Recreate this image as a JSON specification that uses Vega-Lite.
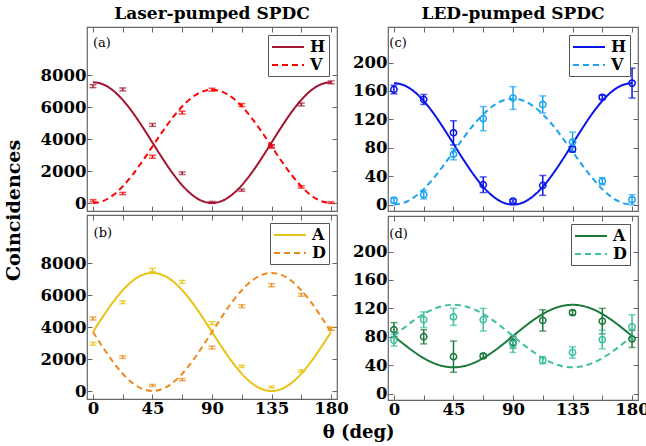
{
"$schema": "https://vega.github.io/schema/vega-lite/v6.json",
"background": "white",
"padding": {"left": 5, "top": 3, "right": 4, "bottom": 0},
"datasets": {
"fit": [
{"p":"a","s":"H","t":0,"v":7550},{"p":"a","s":"H","t":7.5,"v":7421},{"p":"a","s":"H","t":15,"v":7044},{"p":"a","s":"H","t":22.5,"v":6444},{"p":"a","s":"H","t":30,"v":5663},{"p":"a","s":"H","t":37.5,"v":4752},{"p":"a","s":"H","t":45,"v":3775},{"p":"a","s":"H","t":52.5,"v":2798},{"p":"a","s":"H","t":60,"v":1888},{"p":"a","s":"H","t":67.5,"v":1106},{"p":"a","s":"H","t":75,"v":506},{"p":"a","s":"H","t":82.5,"v":129},{"p":"a","s":"H","t":90,"v":0},{"p":"a","s":"H","t":97.5,"v":129},{"p":"a","s":"H","t":105,"v":506},{"p":"a","s":"H","t":112.5,"v":1106},{"p":"a","s":"H","t":120,"v":1888},{"p":"a","s":"H","t":127.5,"v":2798},{"p":"a","s":"H","t":135,"v":3775},{"p":"a","s":"H","t":142.5,"v":4752},{"p":"a","s":"H","t":150,"v":5663},{"p":"a","s":"H","t":157.5,"v":6444},{"p":"a","s":"H","t":165,"v":7044},{"p":"a","s":"H","t":172.5,"v":7421},{"p":"a","s":"H","t":180,"v":7550},
{"p":"a","s":"V","t":0,"v":0},{"p":"a","s":"V","t":7.5,"v":121},{"p":"a","s":"V","t":15,"v":474},{"p":"a","s":"V","t":22.5,"v":1037},{"p":"a","s":"V","t":30,"v":1770},{"p":"a","s":"V","t":37.5,"v":2624},{"p":"a","s":"V","t":45,"v":3540},{"p":"a","s":"V","t":52.5,"v":4456},{"p":"a","s":"V","t":60,"v":5310},{"p":"a","s":"V","t":67.5,"v":6043},{"p":"a","s":"V","t":75,"v":6606},{"p":"a","s":"V","t":82.5,"v":6959},{"p":"a","s":"V","t":90,"v":7080},{"p":"a","s":"V","t":97.5,"v":6959},{"p":"a","s":"V","t":105,"v":6606},{"p":"a","s":"V","t":112.5,"v":6043},{"p":"a","s":"V","t":120,"v":5310},{"p":"a","s":"V","t":127.5,"v":4456},{"p":"a","s":"V","t":135,"v":3540},{"p":"a","s":"V","t":142.5,"v":2624},{"p":"a","s":"V","t":150,"v":1770},{"p":"a","s":"V","t":157.5,"v":1037},{"p":"a","s":"V","t":165,"v":474},{"p":"a","s":"V","t":172.5,"v":121},{"p":"a","s":"V","t":180,"v":0},
{"p":"b","s":"A","t":0,"v":3690},{"p":"b","s":"A","t":7.5,"v":4645},{"p":"b","s":"A","t":15,"v":5535},{"p":"b","s":"A","t":22.5,"v":6299},{"p":"b","s":"A","t":30,"v":6886},{"p":"b","s":"A","t":37.5,"v":7254},{"p":"b","s":"A","t":45,"v":7380},{"p":"b","s":"A","t":52.5,"v":7254},{"p":"b","s":"A","t":60,"v":6886},{"p":"b","s":"A","t":67.5,"v":6299},{"p":"b","s":"A","t":75,"v":5535},{"p":"b","s":"A","t":82.5,"v":4645},{"p":"b","s":"A","t":90,"v":3690},{"p":"b","s":"A","t":97.5,"v":2735},{"p":"b","s":"A","t":105,"v":1845},{"p":"b","s":"A","t":112.5,"v":1081},{"p":"b","s":"A","t":120,"v":494},{"p":"b","s":"A","t":127.5,"v":126},{"p":"b","s":"A","t":135,"v":0},{"p":"b","s":"A","t":142.5,"v":126},{"p":"b","s":"A","t":150,"v":494},{"p":"b","s":"A","t":157.5,"v":1081},{"p":"b","s":"A","t":165,"v":1845},{"p":"b","s":"A","t":172.5,"v":2735},{"p":"b","s":"A","t":180,"v":3690},
{"p":"b","s":"D","t":0,"v":3690},{"p":"b","s":"D","t":7.5,"v":2735},{"p":"b","s":"D","t":15,"v":1845},{"p":"b","s":"D","t":22.5,"v":1081},{"p":"b","s":"D","t":30,"v":494},{"p":"b","s":"D","t":37.5,"v":126},{"p":"b","s":"D","t":45,"v":0},{"p":"b","s":"D","t":52.5,"v":126},{"p":"b","s":"D","t":60,"v":494},{"p":"b","s":"D","t":67.5,"v":1081},{"p":"b","s":"D","t":75,"v":1845},{"p":"b","s":"D","t":82.5,"v":2735},{"p":"b","s":"D","t":90,"v":3690},{"p":"b","s":"D","t":97.5,"v":4645},{"p":"b","s":"D","t":105,"v":5535},{"p":"b","s":"D","t":112.5,"v":6299},{"p":"b","s":"D","t":120,"v":6886},{"p":"b","s":"D","t":127.5,"v":7254},{"p":"b","s":"D","t":135,"v":7380},{"p":"b","s":"D","t":142.5,"v":7254},{"p":"b","s":"D","t":150,"v":6886},{"p":"b","s":"D","t":157.5,"v":6299},{"p":"b","s":"D","t":165,"v":5535},{"p":"b","s":"D","t":172.5,"v":4645},{"p":"b","s":"D","t":180,"v":3690},
{"p":"c","s":"H","t":0,"v":171},{"p":"c","s":"H","t":7.5,"v":168.1},{"p":"c","s":"H","t":15,"v":159.5},{"p":"c","s":"H","t":22.5,"v":146.0},{"p":"c","s":"H","t":30,"v":128.3},{"p":"c","s":"H","t":37.5,"v":107.6},{"p":"c","s":"H","t":45,"v":85.5},{"p":"c","s":"H","t":52.5,"v":63.4},{"p":"c","s":"H","t":60,"v":42.8},{"p":"c","s":"H","t":67.5,"v":25.0},{"p":"c","s":"H","t":75,"v":11.5},{"p":"c","s":"H","t":82.5,"v":2.9},{"p":"c","s":"H","t":90,"v":0},{"p":"c","s":"H","t":97.5,"v":2.9},{"p":"c","s":"H","t":105,"v":11.5},{"p":"c","s":"H","t":112.5,"v":25.0},{"p":"c","s":"H","t":120,"v":42.8},{"p":"c","s":"H","t":127.5,"v":63.4},{"p":"c","s":"H","t":135,"v":85.5},{"p":"c","s":"H","t":142.5,"v":107.6},{"p":"c","s":"H","t":150,"v":128.3},{"p":"c","s":"H","t":157.5,"v":146.0},{"p":"c","s":"H","t":165,"v":159.5},{"p":"c","s":"H","t":172.5,"v":168.1},{"p":"c","s":"H","t":180,"v":171},
{"p":"c","s":"V","t":0,"v":0},{"p":"c","s":"V","t":7.5,"v":2.5},{"p":"c","s":"V","t":15,"v":10.0},{"p":"c","s":"V","t":22.5,"v":21.8},{"p":"c","s":"V","t":30,"v":37.3},{"p":"c","s":"V","t":37.5,"v":55.2},{"p":"c","s":"V","t":45,"v":74.5},{"p":"c","s":"V","t":52.5,"v":93.8},{"p":"c","s":"V","t":60,"v":111.8},{"p":"c","s":"V","t":67.5,"v":127.2},{"p":"c","s":"V","t":75,"v":139.0},{"p":"c","s":"V","t":82.5,"v":146.5},{"p":"c","s":"V","t":90,"v":149},{"p":"c","s":"V","t":97.5,"v":146.5},{"p":"c","s":"V","t":105,"v":139.0},{"p":"c","s":"V","t":112.5,"v":127.2},{"p":"c","s":"V","t":120,"v":111.8},{"p":"c","s":"V","t":127.5,"v":93.8},{"p":"c","s":"V","t":135,"v":74.5},{"p":"c","s":"V","t":142.5,"v":55.2},{"p":"c","s":"V","t":150,"v":37.3},{"p":"c","s":"V","t":157.5,"v":21.8},{"p":"c","s":"V","t":165,"v":10.0},{"p":"c","s":"V","t":172.5,"v":2.5},{"p":"c","s":"V","t":180,"v":0},
{"p":"d","s":"A","t":0,"v":81},{"p":"d","s":"A","t":7.5,"v":69.6},{"p":"d","s":"A","t":15,"v":59},{"p":"d","s":"A","t":22.5,"v":49.9},{"p":"d","s":"A","t":30,"v":42.9},{"p":"d","s":"A","t":37.5,"v":38.5},{"p":"d","s":"A","t":45,"v":37},{"p":"d","s":"A","t":52.5,"v":38.5},{"p":"d","s":"A","t":60,"v":42.9},{"p":"d","s":"A","t":67.5,"v":49.9},{"p":"d","s":"A","t":75,"v":59},{"p":"d","s":"A","t":82.5,"v":69.6},{"p":"d","s":"A","t":90,"v":81},{"p":"d","s":"A","t":97.5,"v":92.4},{"p":"d","s":"A","t":105,"v":103},{"p":"d","s":"A","t":112.5,"v":112.1},{"p":"d","s":"A","t":120,"v":119.1},{"p":"d","s":"A","t":127.5,"v":123.5},{"p":"d","s":"A","t":135,"v":125},{"p":"d","s":"A","t":142.5,"v":123.5},{"p":"d","s":"A","t":150,"v":119.1},{"p":"d","s":"A","t":157.5,"v":112.1},{"p":"d","s":"A","t":165,"v":103},{"p":"d","s":"A","t":172.5,"v":92.4},{"p":"d","s":"A","t":180,"v":81},
{"p":"d","s":"D","t":0,"v":81},{"p":"d","s":"D","t":7.5,"v":92.4},{"p":"d","s":"D","t":15,"v":103},{"p":"d","s":"D","t":22.5,"v":112.1},{"p":"d","s":"D","t":30,"v":119.1},{"p":"d","s":"D","t":37.5,"v":123.5},{"p":"d","s":"D","t":45,"v":125},{"p":"d","s":"D","t":52.5,"v":123.5},{"p":"d","s":"D","t":60,"v":119.1},{"p":"d","s":"D","t":67.5,"v":112.1},{"p":"d","s":"D","t":75,"v":103},{"p":"d","s":"D","t":82.5,"v":92.4},{"p":"d","s":"D","t":90,"v":81},{"p":"d","s":"D","t":97.5,"v":69.6},{"p":"d","s":"D","t":105,"v":59},{"p":"d","s":"D","t":112.5,"v":49.9},{"p":"d","s":"D","t":120,"v":42.9},{"p":"d","s":"D","t":127.5,"v":38.5},{"p":"d","s":"D","t":135,"v":37},{"p":"d","s":"D","t":142.5,"v":38.5},{"p":"d","s":"D","t":150,"v":42.9},{"p":"d","s":"D","t":157.5,"v":49.9},{"p":"d","s":"D","t":165,"v":59},{"p":"d","s":"D","t":172.5,"v":69.6},{"p":"d","s":"D","t":180,"v":81}
],
"pts": [
{"p":"a","s":"H","t":0,"v":7300,"e":90},{"p":"a","s":"H","t":22.5,"v":7100,"e":90},{"p":"a","s":"H","t":45,"v":4880,"e":90},{"p":"a","s":"H","t":67.5,"v":1860,"e":80},{"p":"a","s":"H","t":90,"v":40,"e":60},{"p":"a","s":"H","t":112.5,"v":800,"e":70},{"p":"a","s":"H","t":135,"v":3560,"e":90},{"p":"a","s":"H","t":157.5,"v":6160,"e":90},{"p":"a","s":"H","t":180,"v":7540,"e":90},
{"p":"a","s":"V","t":0,"v":150,"e":60},{"p":"a","s":"V","t":22.5,"v":590,"e":70},{"p":"a","s":"V","t":45,"v":2890,"e":90},{"p":"a","s":"V","t":67.5,"v":5650,"e":90},{"p":"a","s":"V","t":90,"v":7080,"e":90},{"p":"a","s":"V","t":112.5,"v":6120,"e":90},{"p":"a","s":"V","t":135,"v":3520,"e":90},{"p":"a","s":"V","t":157.5,"v":1000,"e":70},{"p":"a","s":"V","t":180,"v":20,"e":50},
{"p":"b","s":"A","t":0,"v":2950,"e":90},{"p":"b","s":"A","t":22.5,"v":5550,"e":90},{"p":"b","s":"A","t":45,"v":7570,"e":100},{"p":"b","s":"A","t":67.5,"v":6820,"e":90},{"p":"b","s":"A","t":90,"v":4240,"e":90},{"p":"b","s":"A","t":112.5,"v":1540,"e":70},{"p":"b","s":"A","t":135,"v":250,"e":60},{"p":"b","s":"A","t":157.5,"v":1250,"e":70},{"p":"b","s":"A","t":180,"v":3890,"e":90},
{"p":"b","s":"D","t":0,"v":4530,"e":90},{"p":"b","s":"D","t":22.5,"v":2120,"e":80},{"p":"b","s":"D","t":45,"v":350,"e":60},{"p":"b","s":"D","t":67.5,"v":710,"e":70},{"p":"b","s":"D","t":90,"v":2720,"e":90},{"p":"b","s":"D","t":112.5,"v":5300,"e":90},{"p":"b","s":"D","t":135,"v":6610,"e":100},{"p":"b","s":"D","t":157.5,"v":6010,"e":90},{"p":"b","s":"D","t":180,"v":3890,"e":90},
{"p":"c","s":"H","t":0,"v":162,"e":6},{"p":"c","s":"H","t":22.5,"v":148,"e":7},{"p":"c","s":"H","t":45,"v":101,"e":17},{"p":"c","s":"H","t":67.5,"v":28,"e":11},{"p":"c","s":"H","t":90,"v":5,"e":2},{"p":"c","s":"H","t":112.5,"v":27,"e":14},{"p":"c","s":"H","t":135,"v":78,"e":4},{"p":"c","s":"H","t":157.5,"v":151,"e":3},{"p":"c","s":"H","t":180,"v":171,"e":21},
{"p":"c","s":"V","t":0,"v":6,"e":4},{"p":"c","s":"V","t":22.5,"v":14,"e":6},{"p":"c","s":"V","t":45,"v":71,"e":8},{"p":"c","s":"V","t":67.5,"v":121,"e":17},{"p":"c","s":"V","t":90,"v":150,"e":16},{"p":"c","s":"V","t":112.5,"v":141,"e":12},{"p":"c","s":"V","t":135,"v":88,"e":14},{"p":"c","s":"V","t":157.5,"v":33,"e":5},{"p":"c","s":"V","t":180,"v":7,"e":7},
{"p":"d","s":"A","t":0,"v":90,"e":10},{"p":"d","s":"A","t":22.5,"v":80,"e":10},{"p":"d","s":"A","t":45,"v":52,"e":22},{"p":"d","s":"A","t":67.5,"v":53,"e":3},{"p":"d","s":"A","t":90,"v":72,"e":8},{"p":"d","s":"A","t":112.5,"v":103,"e":15},{"p":"d","s":"A","t":135,"v":114,"e":3},{"p":"d","s":"A","t":157.5,"v":102,"e":18},{"p":"d","s":"A","t":180,"v":77,"e":12},
{"p":"d","s":"D","t":0,"v":75,"e":8},{"p":"d","s":"D","t":22.5,"v":104,"e":11},{"p":"d","s":"D","t":45,"v":108,"e":12},{"p":"d","s":"D","t":67.5,"v":104,"e":16},{"p":"d","s":"D","t":90,"v":70,"e":12},{"p":"d","s":"D","t":112.5,"v":47,"e":5},{"p":"d","s":"D","t":135,"v":58,"e":8},{"p":"d","s":"D","t":157.5,"v":76,"e":13},{"p":"d","s":"D","t":180,"v":94,"e":17}
]
},
"title": {"text": "θ (deg)", "orient": "bottom", "anchor": "middle", "fontSize": 18, "offset": 6, "dx": 31},
"hconcat": [
{
"title": {"text": "Coincidences", "orient": "left", "anchor": "middle", "fontSize": 19, "offset": 15},
"spacing": 0,
"resolve": {"scale": {"color": "independent", "strokeDash": "independent", "y": "independent"}},
"vconcat": [
{
"width": 250, "height": 184,
"title": {"text": "Laser-pumped SPDC", "offset": 4},
"resolve": {"axis": {"x": "independent", "y": "independent"}},
"layer": [
{"data": {"name": "fit"}, "transform": [{"filter": "datum.p == 'a'"}],
"mark": {"type": "line", "strokeWidth": 2, "interpolate": "monotone", "clip": true},
"encoding": {
"x": {"field": "t", "type": "quantitative", "title": null, "scale": {"domain": [-4.5, 184.5], "nice": false, "zero": false}, "axis": {"values": [0, 22.5, 45, 67.5, 90, 112.5, 135, 157.5, 180], "labels": false, "title": null}},
"y": {"field": "v", "type": "quantitative", "title": null, "scale": {"domain": [-500, 11000], "nice": false, "zero": false}, "axis": {"values": [0, 2000, 4000, 6000, 8000], "format": "d", "title": null}},
"color": {"field": "s", "type": "nominal", "scale": {"domain": ["H", "V"], "range": ["#a2142f", "#ff0000"]}, "legend": {"title": null, "symbolType": "M-2,0H2", "symbolSize": 256, "symbolOffset": 8, "labelOffset": 13}},
"strokeDash": {"field": "s", "type": "nominal", "scale": {"domain": ["H", "V"], "range": [[1, 0], [6, 4]]}, "legend": {"title": null, "symbolType": "M-2,0H2", "symbolSize": 256, "symbolOffset": 8, "labelOffset": 13}}
}},
{"data": {"name": "pts"}, "transform": [{"filter": "datum.p == 'a'"}],
"mark": {"type": "errorbar", "thickness": 1.5, "ticks": {"size": 7, "thickness": 1.5}},
"encoding": {
"x": {"field": "t", "type": "quantitative", "title": null, "axis": null},
"y": {"field": "v", "type": "quantitative", "title": null, "axis": null},
"yError": {"field": "e"},
"color": {"field": "s", "type": "nominal", "legend": null}
}},
{"data": {"values": [{"lab": "(a)"}]},
"mark": {"type": "text", "align": "left", "baseline": "middle", "fontSize": 13, "font": "DejaVu Serif"},
"encoding": {"x": {"datum": 0, "axis": {"orient": "top", "values": [0, 22.5, 45, 67.5, 90, 112.5, 135, 157.5, 180], "labels": false, "title": null}}, "y": {"datum": 9980, "axis": {"orient": "right", "values": [0, 2000, 4000, 6000, 8000], "labels": false, "title": null}}, "text": {"field": "lab"}}}
]
},
{
"width": 250, "height": 184,
"resolve": {"axis": {"x": "independent", "y": "independent"}},
"layer": [
{"data": {"name": "fit"}, "transform": [{"filter": "datum.p == 'b'"}],
"mark": {"type": "line", "strokeWidth": 2, "interpolate": "monotone", "clip": true},
"encoding": {
"x": {"field": "t", "type": "quantitative", "title": null, "scale": {"domain": [-4.5, 184.5], "nice": false, "zero": false}, "axis": {"values": [0, 22.5, 45, 67.5, 90, 112.5, 135, 157.5, 180], "labelExpr": "datum.value % 45 == 0 ? datum.label : ''", "title": null}},
"y": {"field": "v", "type": "quantitative", "title": null, "scale": {"domain": [-500, 11000], "nice": false, "zero": false}, "axis": {"values": [0, 2000, 4000, 6000, 8000], "format": "d", "title": null}},
"color": {"field": "s", "type": "nominal", "scale": {"domain": ["A", "D"], "range": ["#e8c214", "#ec8a1c"]}, "legend": {"title": null, "symbolType": "M-2,0H2", "symbolSize": 256, "symbolOffset": 8, "labelOffset": 13}},
"strokeDash": {"field": "s", "type": "nominal", "scale": {"domain": ["A", "D"], "range": [[1, 0], [6, 4]]}, "legend": {"title": null, "symbolType": "M-2,0H2", "symbolSize": 256, "symbolOffset": 8, "labelOffset": 13}}
}},
{"data": {"name": "pts"}, "transform": [{"filter": "datum.p == 'b'"}],
"mark": {"type": "errorbar", "thickness": 1.5, "ticks": {"size": 7, "thickness": 1.5}},
"encoding": {
"x": {"field": "t", "type": "quantitative", "title": null, "axis": null},
"y": {"field": "v", "type": "quantitative", "title": null, "axis": null},
"yError": {"field": "e"},
"color": {"field": "s", "type": "nominal", "legend": null}
}},
{"data": {"values": [{"lab": "(b)"}]},
"mark": {"type": "text", "align": "left", "baseline": "middle", "fontSize": 13, "font": "DejaVu Serif"},
"encoding": {"x": {"datum": 0.5, "axis": {"orient": "top", "values": [0, 22.5, 45, 67.5, 90, 112.5, 135, 157.5, 180], "labels": false, "title": null}}, "y": {"datum": 9900, "axis": {"orient": "right", "values": [0, 2000, 4000, 6000, 8000], "labels": false, "title": null}}, "text": {"field": "lab"}}}
]
}
]
},
{
"spacing": 0,
"resolve": {"scale": {"color": "independent", "strokeDash": "independent", "y": "independent"}},
"vconcat": [
{
"width": 250, "height": 184,
"title": {"text": "LED-pumped SPDC", "offset": 4},
"resolve": {"axis": {"x": "independent", "y": "independent"}},
"layer": [
{"data": {"name": "fit"}, "transform": [{"filter": "datum.p == 'c'"}],
"mark": {"type": "line", "strokeWidth": 2, "interpolate": "monotone", "clip": true},
"encoding": {
"x": {"field": "t", "type": "quantitative", "title": null, "scale": {"domain": [-4.5, 184.5], "nice": false, "zero": false}, "axis": {"values": [0, 22.5, 45, 67.5, 90, 112.5, 135, 157.5, 180], "labels": false, "title": null}},
"y": {"field": "v", "type": "quantitative", "title": null, "scale": {"domain": [-9, 250], "nice": false, "zero": false}, "axis": {"values": [0, 40, 80, 120, 160, 200], "labelOverlap": false, "title": null}},
"color": {"field": "s", "type": "nominal", "scale": {"domain": ["H", "V"], "range": ["#0a14e6", "#1aa3f0"]}, "legend": {"title": null, "symbolType": "M-2,0H2", "symbolSize": 256, "symbolOffset": 8, "labelOffset": 13}},
"strokeDash": {"field": "s", "type": "nominal", "scale": {"domain": ["H", "V"], "range": [[1, 0], [6, 4]]}, "legend": {"title": null, "symbolType": "M-2,0H2", "symbolSize": 256, "symbolOffset": 8, "labelOffset": 13}}
}},
{"data": {"name": "pts"}, "transform": [{"filter": "datum.p == 'c'"}],
"mark": {"type": "errorbar", "thickness": 1.5, "ticks": {"size": 7, "thickness": 1.5}},
"encoding": {
"x": {"field": "t", "type": "quantitative", "title": null, "axis": null},
"y": {"field": "v", "type": "quantitative", "title": null, "axis": null},
"yError": {"field": "e"},
"color": {"field": "s", "type": "nominal", "legend": null}
}},
{"data": {"name": "pts"}, "transform": [{"filter": "datum.p == 'c'"}],
"mark": {"type": "point", "shape": "circle", "filled": false, "size": 40, "strokeWidth": 1.5, "opacity": 1},
"encoding": {
"x": {"field": "t", "type": "quantitative", "title": null, "axis": null},
"y": {"field": "v", "type": "quantitative", "title": null, "axis": null},
"color": {"field": "s", "type": "nominal", "legend": null}
}},
{"data": {"values": [{"lab": "(c)"}]},
"mark": {"type": "text", "align": "left", "baseline": "middle", "fontSize": 13, "font": "DejaVu Serif"},
"encoding": {"x": {"datum": -3.5, "axis": {"orient": "top", "values": [0, 22.5, 45, 67.5, 90, 112.5, 135, 157.5, 180], "labels": false, "title": null}}, "y": {"datum": 227, "axis": {"orient": "right", "values": [0, 40, 80, 120, 160, 200], "labels": false, "title": null}}, "text": {"field": "lab"}}}
]
},
{
"width": 250, "height": 184,
"resolve": {"axis": {"x": "independent", "y": "independent"}},
"layer": [
{"data": {"name": "fit"}, "transform": [{"filter": "datum.p == 'd'"}],
"mark": {"type": "line", "strokeWidth": 2, "interpolate": "monotone", "clip": true},
"encoding": {
"x": {"field": "t", "type": "quantitative", "title": null, "scale": {"domain": [-4.5, 184.5], "nice": false, "zero": false}, "axis": {"values": [0, 22.5, 45, 67.5, 90, 112.5, 135, 157.5, 180], "labelExpr": "datum.value % 45 == 0 ? datum.label : ''", "title": null}},
"y": {"field": "v", "type": "quantitative", "title": null, "scale": {"domain": [-9, 250], "nice": false, "zero": false}, "axis": {"values": [0, 40, 80, 120, 160, 200], "labelOverlap": false, "title": null}},
"color": {"field": "s", "type": "nominal", "scale": {"domain": ["A", "D"], "range": ["#1b7a3b", "#3dbfa0"]}, "legend": {"title": null, "symbolType": "M-2,0H2", "symbolSize": 256, "symbolOffset": 8, "labelOffset": 13}},
"strokeDash": {"field": "s", "type": "nominal", "scale": {"domain": ["A", "D"], "range": [[1, 0], [6, 4]]}, "legend": {"title": null, "symbolType": "M-2,0H2", "symbolSize": 256, "symbolOffset": 8, "labelOffset": 13}}
}},
{"data": {"name": "pts"}, "transform": [{"filter": "datum.p == 'd'"}],
"mark": {"type": "errorbar", "thickness": 1.5, "ticks": {"size": 7, "thickness": 1.5}},
"encoding": {
"x": {"field": "t", "type": "quantitative", "title": null, "axis": null},
"y": {"field": "v", "type": "quantitative", "title": null, "axis": null},
"yError": {"field": "e"},
"color": {"field": "s", "type": "nominal", "legend": null}
}},
{"data": {"name": "pts"}, "transform": [{"filter": "datum.p == 'd'"}],
"mark": {"type": "point", "shape": "circle", "filled": false, "size": 40, "strokeWidth": 1.5, "opacity": 1},
"encoding": {
"x": {"field": "t", "type": "quantitative", "title": null, "axis": null},
"y": {"field": "v", "type": "quantitative", "title": null, "axis": null},
"color": {"field": "s", "type": "nominal", "legend": null}
}},
{"data": {"values": [{"lab": "(d)"}]},
"mark": {"type": "text", "align": "left", "baseline": "middle", "fontSize": 13, "font": "DejaVu Serif"},
"encoding": {"x": {"datum": -3.5, "axis": {"orient": "top", "values": [0, 22.5, 45, 67.5, 90, 112.5, 135, 157.5, 180], "labels": false, "title": null}}, "y": {"datum": 225, "axis": {"orient": "right", "values": [0, 40, 80, 120, 160, 200], "labels": false, "title": null}}, "text": {"field": "lab"}}}
]
}
]
}
],
"spacing": 2,
"resolve": {"scale": {"color": "independent", "strokeDash": "independent", "y": "independent"}},
"config": {
"font": "DejaVu Serif",
"view": {"stroke": "#666", "strokeWidth": 1.2},
"axis": {"grid": false, "domain": false, "tickColor": "#666", "tickSize": -5, "tickWidth": 1, "labelFont": "DejaVu Serif", "labelFontWeight": "bold", "labelFontSize": 16.5, "labelColor": "#000", "labelPadding": 6, "labelOverlap": false},
"legend": {"orient": "top-right", "offset": 8, "padding": 3, "fillColor": "white", "strokeColor": "#555", "symbolStrokeWidth": 2, "labelFont": "DejaVu Serif", "labelFontWeight": "bold", "labelFontSize": 16, "labelColor": "#000", "rowPadding": 1},
"title": {"font": "DejaVu Serif", "fontWeight": "bold", "fontSize": 17, "color": "#000"}
}
}
